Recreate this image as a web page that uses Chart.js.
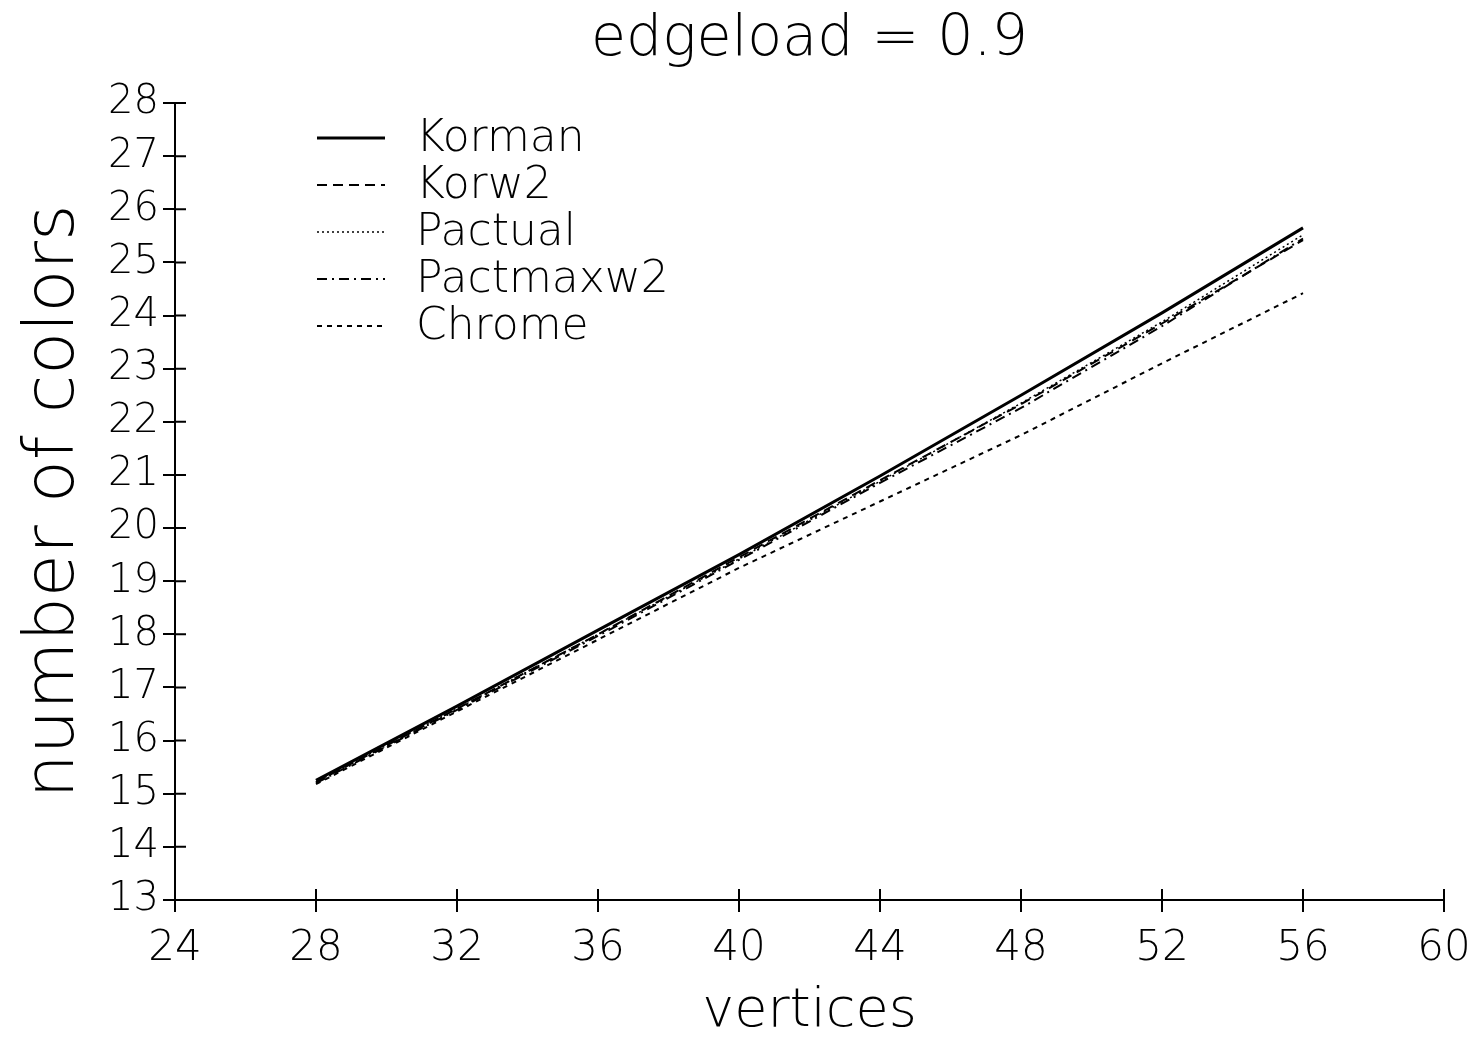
<!DOCTYPE html>
<html>
<head>
<meta charset="utf-8">
<script src="https://cdn.jsdelivr.net/npm/chart.js@4.4.0/dist/chart.umd.min.js"></script>
<style>
  html, body { margin: 0; padding: 0; background: #fff; }
  #wrap { width: 1479px; height: 1039px; }
</style>
</head>
<body>
<div id="wrap"><canvas id="myChart"></canvas></div>
<script>
const vertices = [28, 32, 36, 40, 44, 48, 52, 56]
const korman    = [15.25, 16.65, 18.08, 19.50, 20.98, 22.50, 24.05, 25.65]
const korw2     = [15.22, 16.60, 18.00, 19.45, 20.90, 22.33, 23.85, 25.42]
const pactual   = [15.22, 16.60, 18.00, 19.42, 20.88, 22.35, 23.88, 25.52]
const pactmaxw2 = [15.20, 16.58, 17.97, 19.40, 20.85, 22.26, 23.80, 25.45]
const chrome    = [15.18, 16.55, 17.90, 19.25, 20.50, 21.75, 23.10, 24.42]

const titleText = 'edgeload = 0.9'
const font = "'DejaVu Sans', sans-serif"

function pts(ys) {
  return vertices.map((x, i) => ({ x: x, y: ys[i] }))
}

const data = {
  datasets: [
    { label: 'Korman', data: pts(korman), borderColor: '#000', borderWidth: 3, borderDash: [] },
    { label: 'Korw2', data: pts(korw2), borderColor: '#000', borderWidth: 2, borderDash: [10, 6] },
    { label: 'Pactual', data: pts(pactual), borderColor: '#000', borderWidth: 1.5, borderDash: [2, 3] },
    { label: 'Pactmaxw2', data: pts(pactmaxw2), borderColor: '#000', borderWidth: 2, borderDash: [10, 5, 2, 5] },
    { label: 'Chrome', data: pts(chrome), borderColor: '#000', borderWidth: 2, borderDash: [5, 5] }
  ]
}

// title over the plot, ticks crossing the axis lines, legend inside the plot
const extras = {
  id: 'extras',
  afterDraw(chart) {
    const ctx = chart.ctx
    const x = chart.scales.x
    const y = chart.scales.y
    const area = chart.chartArea
    ctx.save()
    ctx.fillStyle = '#000'
    ctx.textAlign = 'center'
    ctx.textBaseline = 'middle'
    ctx.font = '200 57px ' + font
    ctx.fillText(titleText, (area.left + area.right) / 2, 40)

    ctx.strokeStyle = '#000'
    ctx.lineWidth = 2
    ctx.beginPath()
    for (let v = 24; v <= 60; v += 4) {
      const px = x.getPixelForValue(v)
      ctx.moveTo(px, y.bottom)
      ctx.lineTo(px, y.bottom - 11)
    }
    for (let v = 13; v <= 28; v++) {
      const py = y.getPixelForValue(v)
      ctx.moveTo(x.left, py)
      ctx.lineTo(x.left + 11, py)
    }
    ctx.stroke()

    // legend
    ctx.font = '200 44px ' + font
    ctx.textAlign = 'left'
    chart.data.datasets.forEach((ds, i) => {
      const ly = 138 + i * 47
      ctx.beginPath()
      ctx.lineWidth = ds.borderWidth
      ctx.setLineDash(ds.borderDash)
      ctx.moveTo(317, ly)
      ctx.lineTo(385, ly)
      ctx.stroke()
      ctx.fillText(ds.label, 416, ly + 2)
    })
    ctx.restore()
  }
}

const config = {
  type: 'line',
  data: data,
  options: {
    responsive: true,
    maintainAspectRatio: false,
    animation: false,
    layout: { padding: { left: 0, right: 35, top: 103, bottom: 0 } },
    elements: { point: { radius: 0 }, line: { tension: 0 } },
    plugins: {
      legend: { display: false },
      tooltip: { enabled: false },
      title: { display: false }
    },
    scales: {
      x: {
        type: 'linear',
        min: 24,
        max: 60,
        border: { color: '#000', width: 2 },
        grid: { drawOnChartArea: false, color: '#000', lineWidth: 2, tickLength: 12 },
        ticks: { stepSize: 4, autoSkip: false, color: '#000', font: { family: font, size: 42, weight: '200' }, padding: 12, maxRotation: 0 },
        title: { display: true, text: 'vertices', color: '#000', font: { family: font, size: 54, weight: '200', lineHeight: 1 }, padding: { top: 8, bottom: 0 } },
        afterFit: (s) => { s.height = 139; s.paddingRight = 0 }
      },
      y: {
        min: 13,
        max: 28,
        border: { color: '#000', width: 2 },
        grid: { drawOnChartArea: false, color: '#000', lineWidth: 2, tickLength: 12 },
        ticks: { stepSize: 1, autoSkip: false, color: '#000', font: { family: font, size: 40, weight: '200' }, padding: 4 },
        title: { display: true, text: 'number of colors', color: '#000', font: { family: font, size: 70, weight: '200' }, padding: { top: 13, bottom: 0 } },
        afterFit: (s) => { s.width = 175 }
      }
    }
  },
  plugins: [extras]
}

const myChart = new Chart(document.getElementById('myChart'), config)
</script>
</body>
</html>
